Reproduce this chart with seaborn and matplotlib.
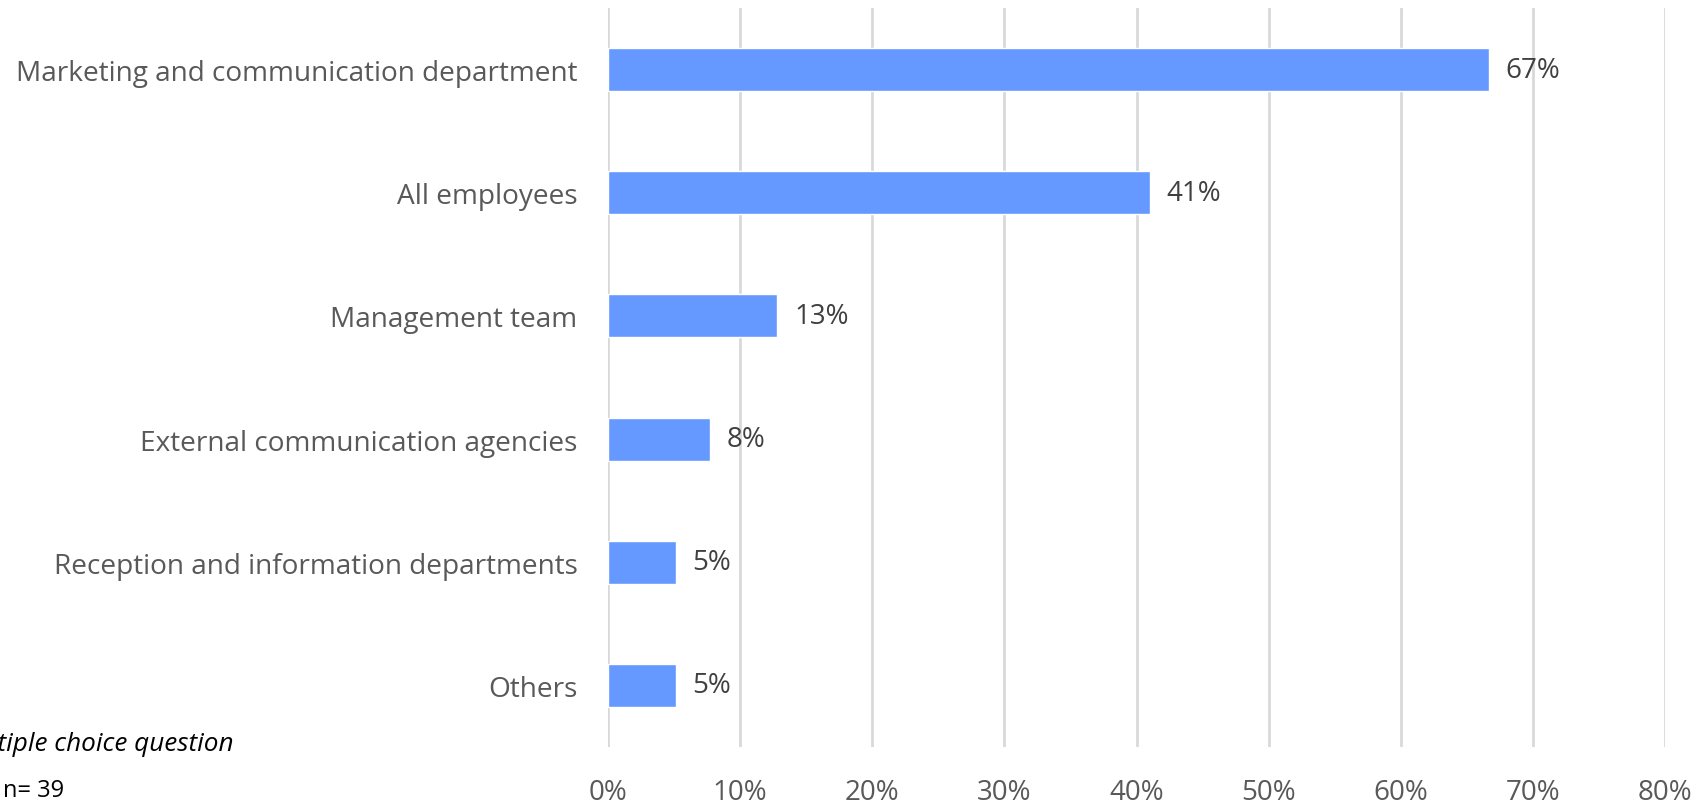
import matplotlib
matplotlib.use("Agg")
import matplotlib.pyplot as plt
import seaborn as sns
import pandas as pd

categories = [
    "Marketing and communication department",
    "All employees",
    "Management team",
    "External communication agencies",
    "Reception and information departments",
    "Others",
]
shares = [66.67, 41.03, 12.82, 7.69, 5.13, 5.13]
value_labels = ["67%", "41%", "13%", "8%", "5%", "5%"]
x_ticks = [0, 10, 20, 30, 40, 50, 60, 70, 80]
x_tick_labels = [f"{t}%" for t in x_ticks]

df = pd.DataFrame({"category": categories, "share": shares})

sns.set_theme(style="white")
plt.rcParams["font.family"] = ["Open Sans", "DejaVu Sans"]

W, H = 1700, 804
fig = plt.figure(figsize=(W / 100, H / 100), dpi=100)
ax = fig.add_axes([608 / W, 1 - 748 / H, (1665 - 608) / W, (748 - 9) / H])

sns.barplot(data=df, y="category", x="share", orient="h", color="#6699FF",
            saturation=1, width=0.35, ax=ax, zorder=3)

ax.set_xlim(0, 80)
ax.set_ylim(5.5, -0.5)
ax.set_xticks(x_ticks)
ax.set_xticklabels(x_tick_labels)
ax.xaxis.grid(True, color="#D9D9D9", linewidth=2, zorder=0)
ax.yaxis.grid(False)
for s in ax.spines.values():
    s.set_visible(False)
ax.tick_params(axis="x", length=0, pad=22, labelsize=20, labelcolor="#595959")
ax.tick_params(axis="y", length=0, pad=22, labelsize=20.2, labelcolor="#595959")
ax.set_xlabel("")
ax.set_ylabel("")

for i, (v, lab) in enumerate(zip(shares, value_labels)):
    ax.annotate(lab, xy=(v, i), xytext=(12, 0), textcoords="offset points",
                va="center", ha="left", fontsize=20, color="#404040")

# footnotes in the lower-left corner; the first one runs past the left edge
fig.text(234 / W, 1 - 745 / H, "Multiple choice question", ha="right", va="center",
         fontsize=18.8, style="italic", color="black")
fig.text(3 / W, 1 - 791 / H, "n= 39", ha="left", va="center",
         fontsize=17, color="black")

fig.savefig("out.png", dpi=100, facecolor="white")
